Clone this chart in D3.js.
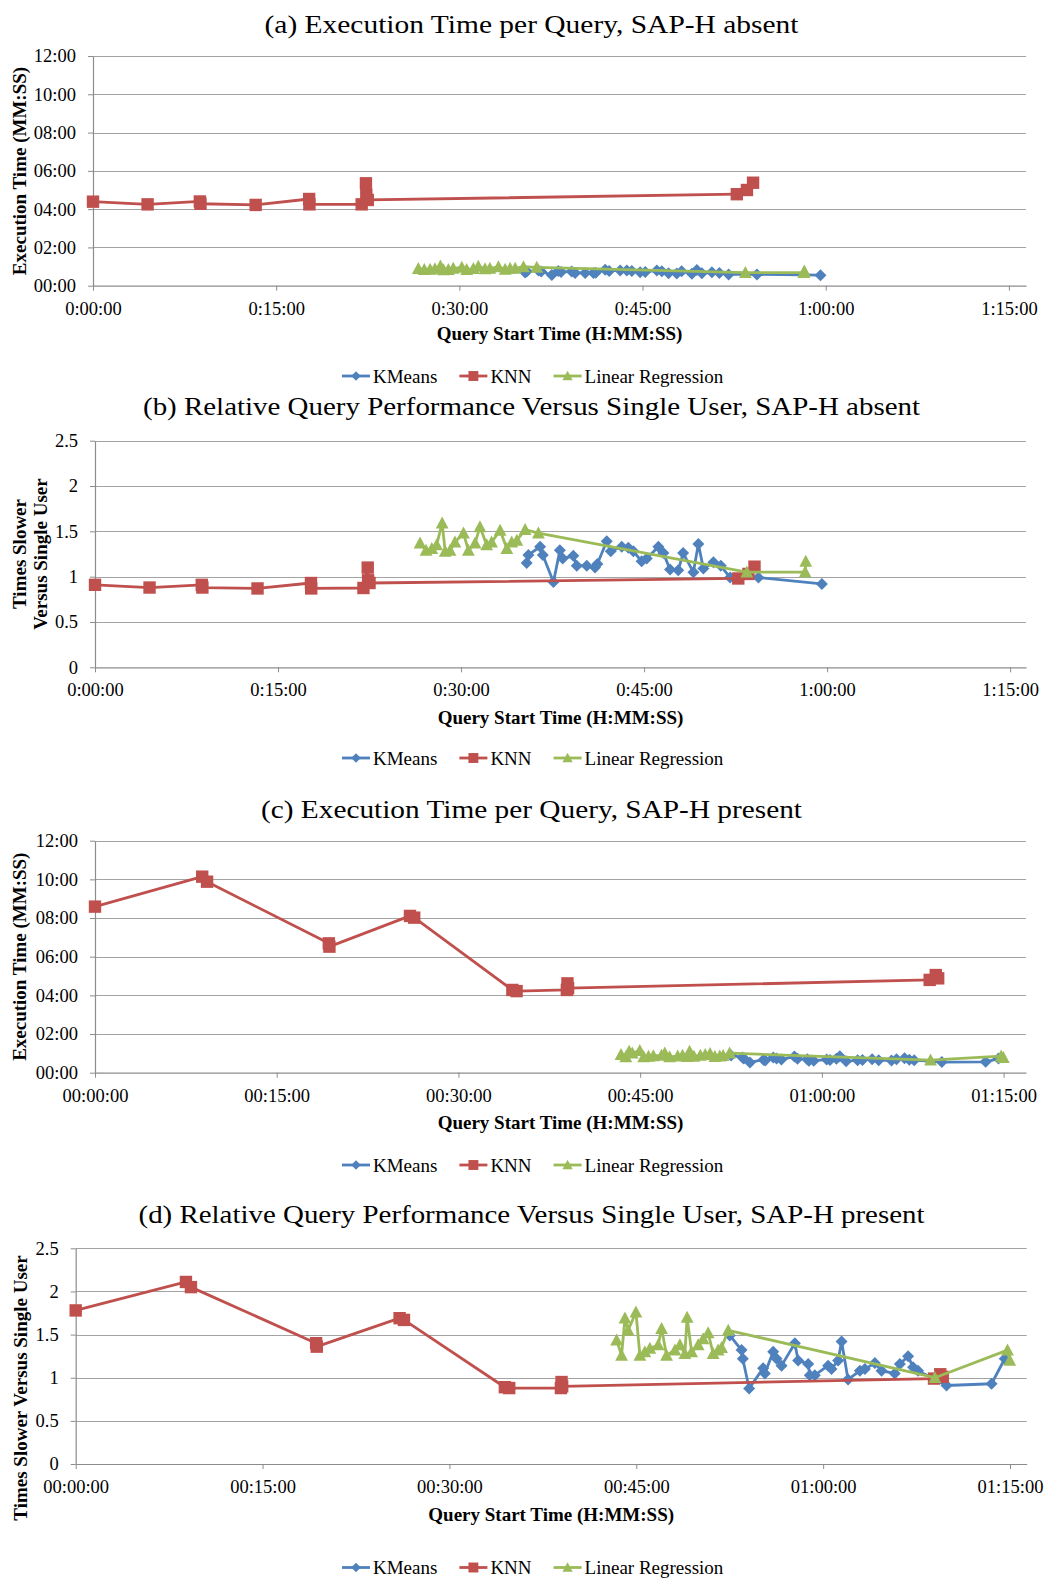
<!DOCTYPE html>
<html><head><meta charset="utf-8">
<script src="https://cdn.jsdelivr.net/npm/d3@7"></script>
<style>body{margin:0;background:#fff}svg{display:block}</style>
</head><body>
<svg id="chart" width="1049" height="1584"></svg>
<script>
// ---------- labels ----------
const titles = [
  "(a) Execution Time per Query, SAP-H absent",
  "(b) Relative Query Performance Versus Single User, SAP-H absent",
  "(c) Execution Time per Query, SAP-H present",
  "(d) Relative Query Performance Versus Single User, SAP-H present"
];
const seriesNames = ["KMeans", "KNN", "Linear Regression"];
const xTickMinutes = [0, 15, 30, 45, 60, 75];
const xTickLabelsAB = ["0:00:00", "0:15:00", "0:30:00", "0:45:00", "1:00:00", "1:15:00"];
const xTickLabelsCD = ["00:00:00", "00:15:00", "00:30:00", "00:45:00", "01:00:00", "01:15:00"];
const timeTickValues = [0, 2, 4, 6, 8, 10, 12];
const timeTickLabels = ["00:00", "02:00", "04:00", "06:00", "08:00", "10:00", "12:00"];
const ratioTickValues = [0, 0.5, 1, 1.5, 2, 2.5];
const ratioTickLabels = ["0", "0.5", "1", "1.5", "2", "2.5"];
const xTitle = "Query Start Time (H:MM:SS)";

// ---------- SAP-H absent (a, b): start time in minutes ----------
const kmTimeAB = [35.38, 35.52, 36.48, 36.7, 37.57, 38.1, 38.33, 39.2, 39.48, 40.3, 40.98, 41.17, 41.94, 42.27, 43.17, 43.71, 44.12, 44.8, 45.22, 46.17, 46.58, 47.13, 47.8, 48.2, 49.04, 49.45, 49.86, 50.68, 51.29, 52.05, 54.37, 59.57];
const kmExecA  = [0.69, 0.74, 0.80, 0.74, 0.56, 0.77, 0.72, 0.74, 0.67, 0.67, 0.66, 0.68, 0.83, 0.77, 0.80, 0.79, 0.77, 0.70, 0.72, 0.80, 0.76, 0.65, 0.64, 0.76, 0.63, 0.82, 0.65, 0.70, 0.67, 0.59, 0.59, 0.55];
const kmRelB   = [1.15, 1.24, 1.33, 1.24, 0.94, 1.29, 1.20, 1.23, 1.12, 1.12, 1.10, 1.14, 1.39, 1.28, 1.33, 1.32, 1.28, 1.17, 1.20, 1.33, 1.26, 1.08, 1.07, 1.26, 1.05, 1.36, 1.09, 1.16, 1.12, 0.99, 0.99, 0.92];

const knnTimeAB = [0, 4.47, 8.75, 8.8, 13.32, 17.7, 17.72, 22.0, 22.35, 22.38, 22.5, 52.72, 53.55, 54.05];
const knnExecA  = [4.39, 4.25, 4.40, 4.28, 4.22, 4.53, 4.25, 4.25, 5.35, 4.74, 4.48, 4.78, 5.00, 5.38];
const knnRelB   = [0.91, 0.88, 0.91, 0.88, 0.87, 0.93, 0.87, 0.875, 1.10, 0.96, 0.93, 0.98, 1.03, 1.11];

const lrTimeAB = [26.64, 27.13, 27.6, 28.0, 28.45, 28.7, 29.1, 29.5, 30.2, 30.6, 31.15, 31.55, 32.1, 32.5, 33.2, 33.75, 34.15, 34.57, 35.25, 36.34, 53.42, 58.2, 58.25];
const lrExecA  = [0.89, 0.84, 0.85, 0.88, 1.03, 0.83, 0.84, 0.90, 0.96, 0.84, 0.89, 1.01, 0.88, 0.90, 0.98, 0.85, 0.90, 0.91, 0.99, 0.96, 0.68, 0.68, 0.76];
const lrRelB   = [1.37, 1.29, 1.31, 1.35, 1.59, 1.28, 1.29, 1.38, 1.48, 1.29, 1.37, 1.55, 1.35, 1.38, 1.51, 1.31, 1.38, 1.40, 1.52, 1.48, 1.05, 1.05, 1.17];

// ---------- SAP-H present (c, d) ----------
const kmTimeCD = [52.51, 53.45, 53.55, 54.06, 55.18, 55.32, 55.99, 56.26, 56.66, 57.73, 57.99, 58.8, 58.93, 59.33, 60.4, 60.67, 61.2, 61.48, 62.0, 62.95, 63.35, 64.15, 64.69, 65.75, 66.16, 66.82, 67.22, 67.62, 69.9, 73.52, 74.58];
const kmExecC  = [0.89, 0.79, 0.73, 0.53, 0.67, 0.63, 0.78, 0.73, 0.68, 0.84, 0.72, 0.70, 0.62, 0.62, 0.68, 0.66, 0.72, 0.85, 0.59, 0.65, 0.66, 0.70, 0.65, 0.63, 0.70, 0.75, 0.67, 0.65, 0.55, 0.56, 0.73];
const kmRelD   = [1.49, 1.32, 1.22, 0.876, 1.11, 1.05, 1.30, 1.22, 1.14, 1.40, 1.20, 1.16, 1.03, 1.03, 1.14, 1.10, 1.20, 1.42, 0.98, 1.08, 1.10, 1.17, 1.08, 1.05, 1.16, 1.25, 1.12, 1.08, 0.91, 0.93, 1.22];

const knnTimeCD = [0, 8.85, 9.25, 19.3, 19.35, 26.0, 26.35, 34.45, 34.8, 38.95, 39.0, 39.05, 68.9, 69.4, 69.6];
const knnExecC  = [8.59, 10.14, 9.88, 6.69, 6.52, 8.11, 8.02, 4.28, 4.22, 4.28, 4.62, 4.37, 4.80, 5.05, 4.88];
const knnRelD   = [1.78, 2.11, 2.05, 1.40, 1.36, 1.69, 1.67, 0.89, 0.88, 0.88, 0.95, 0.90, 0.99, 1.04, 1.01];

const lrTimeCD = [43.42, 43.82, 44.09, 44.35, 44.97, 45.29, 45.69, 46.09, 46.76, 47.03, 47.43, 48.1, 48.5, 48.9, 49.08, 49.44, 49.97, 50.37, 50.77, 51.17, 51.57, 51.85, 52.38, 68.97, 74.8, 74.98];
const lrExecC  = [0.93, 0.82, 1.10, 1.01, 1.14, 0.82, 0.85, 0.87, 0.90, 1.02, 0.82, 0.86, 0.90, 0.83, 1.10, 0.85, 0.90, 0.94, 0.99, 0.83, 0.86, 0.88, 1.01, 0.65, 0.86, 0.78];
const lrRelD   = [1.435, 1.26, 1.69, 1.55, 1.76, 1.26, 1.30, 1.34, 1.38, 1.57, 1.26, 1.32, 1.38, 1.28, 1.70, 1.30, 1.38, 1.45, 1.52, 1.28, 1.32, 1.35, 1.55, 1.00, 1.32, 1.20];

// ---------- drawing ----------
const COLORS = ["#4F81BD", "#C0504D", "#9BBB59"];
const SHAPES = ["diamond", "square", "triangle"];
const SERIF = "'Liberation Serif','Times New Roman',serif";
const GRID = "#A3A3A3";
const AXIS = "#8C8C8C";
const svg = d3.select("#chart");

function markerPath(shape) {
  if (shape === "diamond") return "M0,-6L6,0L0,6L-6,0Z";
  if (shape === "square") return "M-6.2,-6.2H6.2V6.2H-6.2Z";
  return "M0,-6.6L6.4,5.4H-6.4Z";
}

const panels = [
  { title: titles[0], tw: 534, tb: 32.5, left: 93, right: 1026, top: 56, bottom: 285.7, xMax: 76.4, yMax: 12,
    yVals: timeTickValues, yLabels: timeTickLabels, xLabels: xTickLabelsAB,
    yTitle: ["Execution Time (MM:SS)"], yTitleX: [19], yTitleY: 171, xTitleY: 333.5, legendY: 376,
    data: [[kmTimeAB, kmExecA], [knnTimeAB, knnExecA], [lrTimeAB, lrExecA]] },
  { title: titles[1], tw: 777, tb: 415, left: 95, right: 1026, top: 440.7, bottom: 667.3, xMax: 76.3, yMax: 2.5,
    yVals: ratioTickValues, yLabels: ratioTickLabels, xLabels: xTickLabelsAB,
    yTitle: ["Times Slower", "Versus Single User"], yTitleX: [19, 40.7], yTitleY: 554, xTitleY: 717.5, legendY: 758,
    data: [[kmTimeAB, kmRelB], [knnTimeAB, knnRelB], [lrTimeAB, lrRelB]] },
  { title: titles[2], tw: 541, tb: 818.3, left: 95, right: 1026, top: 840.7, bottom: 1072.7, xMax: 76.85, yMax: 12,
    yVals: timeTickValues, yLabels: timeTickLabels, xLabels: xTickLabelsCD,
    yTitle: ["Execution Time (MM:SS)"], yTitleX: [19], yTitleY: 956.7, xTitleY: 1122, legendY: 1165,
    data: [[kmTimeCD, kmExecC], [knnTimeCD, knnExecC], [lrTimeCD, lrExecC]] },
  { title: titles[3], tw: 786, tb: 1223.3, left: 75.7, right: 1026.7, top: 1248.3, bottom: 1464, xMax: 76.34, yMax: 2.5,
    yVals: ratioTickValues, yLabels: ratioTickLabels, xLabels: xTickLabelsCD,
    yTitle: ["Times Slower Versus Single User"], yTitleX: [20], yTitleY: 1388, xTitleY: 1514, legendY: 1567.5,
    data: [[kmTimeCD, kmRelD], [knnTimeCD, knnRelD], [lrTimeCD, lrRelD]] }
];

panels.forEach(p => {
  const g = svg.append("g");
  const x = d3.scaleLinear().domain([0, p.xMax]).range([p.left, p.right]);
  const y = d3.scaleLinear().domain([0, p.yMax]).range([p.bottom, p.top]);

  // title
  g.append("text").attr("x", 531.5).attr("y", p.tb).attr("text-anchor", "middle")
    .attr("font-family", SERIF).attr("font-size", 25.5).attr("fill", "#000")
    .attr("textLength", p.tw).attr("lengthAdjust", "spacingAndGlyphs").text(p.title);

  // gridlines
  g.append("g").selectAll("line").data(p.yVals.slice(1)).join("line")
    .attr("x1", p.left).attr("x2", p.right)
    .attr("y1", d => Math.round(y(d)) + 0.5).attr("y2", d => Math.round(y(d)) + 0.5)
    .attr("stroke", GRID).attr("stroke-width", 1.1);

  // y axis
  const yAxis = d3.axisLeft(y).tickValues(p.yVals).tickFormat((d, i) => p.yLabels[i])
    .tickSize(5).tickSizeOuter(0).tickPadding(12);
  const ya = g.append("g").attr("transform", `translate(${p.left},0)`).call(yAxis);
  ya.select(".domain").attr("stroke", AXIS).attr("stroke-width", 1.2);
  ya.selectAll(".tick line").attr("stroke", AXIS);
  ya.selectAll(".tick text").attr("font-family", SERIF).attr("font-size", 18.5).attr("fill", "#000");

  // x axis
  const xAxis = d3.axisBottom(x).tickValues(xTickMinutes).tickFormat((d, i) => p.xLabels[i])
    .tickSize(5).tickSizeOuter(0).tickPadding(11);
  const xa = g.append("g").attr("transform", `translate(0,${p.bottom})`).call(xAxis);
  xa.select(".domain").attr("stroke", AXIS).attr("stroke-width", 1.2);
  xa.selectAll(".tick line").attr("stroke", AXIS);
  xa.selectAll(".tick text").attr("font-family", SERIF).attr("font-size", 18.5).attr("fill", "#000");

  // axis titles
  g.append("text").attr("x", (p.left + p.right) / 2).attr("y", p.xTitleY)
    .attr("dominant-baseline", "central").attr("text-anchor", "middle")
    .attr("font-family", SERIF).attr("font-weight", "bold").attr("font-size", 19).text(xTitle);
  p.yTitle.forEach((t, i) => {
    g.append("text").attr("transform", `translate(${p.yTitleX[i]},${p.yTitleY}) rotate(-90)`)
      .attr("dominant-baseline", "central").attr("text-anchor", "middle")
      .attr("font-family", SERIF).attr("font-weight", "bold").attr("font-size", 19).text(t);
  });

  // series
  const line = d3.line().x(d => x(d[0])).y(d => y(d[1]));
  p.data.forEach(([ts, vs], si) => {
    const pts = ts.map((t, i) => [t, vs[i]]);
    const sg = g.append("g");
    sg.append("path").attr("d", line(pts)).attr("fill", "none")
      .attr("stroke", COLORS[si]).attr("stroke-width", 2.8).attr("stroke-linejoin", "round");
    sg.selectAll("path.m").data(pts).join("path").attr("class", "m")
      .attr("d", markerPath(SHAPES[si]))
      .attr("transform", d => `translate(${x(d[0])},${y(d[1])})`)
      .attr("fill", COLORS[si]);
  });

  // legend
  let lx = 342;
  seriesNames.forEach((name, si) => {
    const lg = g.append("g");
    lg.append("line").attr("x1", lx).attr("x2", lx + 28).attr("y1", p.legendY).attr("y2", p.legendY)
      .attr("stroke", COLORS[si]).attr("stroke-width", 2.8);
    lg.append("path").attr("d", markerPath(SHAPES[si]))
      .attr("transform", `translate(${lx + 14},${p.legendY}) scale(0.8)`).attr("fill", COLORS[si]);
    const tx = lg.append("text").attr("x", lx + 31).attr("y", p.legendY)
      .attr("dominant-baseline", "central").attr("font-family", SERIF).attr("font-size", 19)
      .attr("fill", "#000").text(name);
    lx += 31 + tx.node().getComputedTextLength() + 22;
  });
});
</script>
</body></html>
